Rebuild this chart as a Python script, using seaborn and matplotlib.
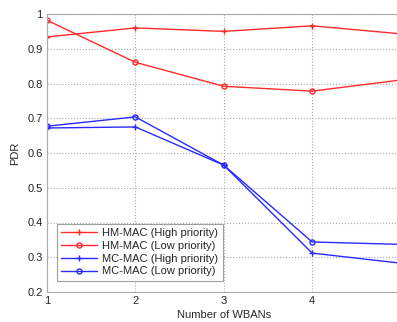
import matplotlib
matplotlib.use("Agg")
import matplotlib.pyplot as plt
import seaborn as sns
import pandas as pd

wbans = [1, 2, 3, 4, 5]
hm_high = [0.934, 0.960, 0.950, 0.966, 0.943]
hm_low = [0.982, 0.861, 0.792, 0.778, 0.810]
mc_high = [0.672, 0.675, 0.565, 0.312, 0.283]
mc_low = [0.677, 0.704, 0.565, 0.344, 0.337]
labels = ["HM-MAC (High priority)", "HM-MAC (Low priority)",
          "MC-MAC (High priority)", "MC-MAC (Low priority)"]
series = [hm_high, hm_low, mc_high, mc_low]
colors = ["#ff2a2a", "#ff2a2a", "#2a2aff", "#2a2aff"]
markers = ["+", "o", "+", "o"]
xtick_labels = ["1", "2", "3", "4"]

sns.set_style("white")
plt.rcParams["font.family"] = ["Liberation Sans", "DejaVu Sans"]

fig = plt.figure(figsize=(3.97, 3.22), dpi=100)
ax = fig.add_axes([47 / 397, 30 / 322, (400.5 - 47) / 397, (292 - 14) / 322])

for lab, vals, c, m in zip(labels, series, colors, markers):
    df = pd.DataFrame({"x": wbans, "y": vals})
    sns.lineplot(data=df, x="x", y="y", ax=ax, color=c, marker=m, label=lab,
                 linewidth=1.0, markersize=4.5 if m == "+" else 3.6,
                 markerfacecolor="none", markeredgecolor=c, markeredgewidth=1.0)

ax.set_xlim(1, 5)
ax.set_ylim(0.2, 1.0)
ax.set_xticks([1, 2, 3, 4])
ax.set_xticklabels(xtick_labels)
ax.set_xticks([5], minor=True)
ax.set_yticks([0.2, 0.3, 0.4, 0.5, 0.6, 0.7, 0.8, 0.9, 1.0])
ax.set_yticklabels(["0.2", "0.3", "0.4", "0.5", "0.6", "0.7", "0.8", "0.9", "1"])
ax.tick_params(axis="both", labelsize=8, direction="in", length=3, color="#888888", pad=3)
ax.grid(True, which="both", linestyle=":", color="#aaaaaa", linewidth=0.8)
for s in ax.spines.values():
    s.set_color("#aaaaaa")
    s.set_linewidth(0.8)
ax.set_xlabel("Number of WBANs", fontsize=8, labelpad=3)
ax.set_ylabel("PDR", fontsize=8, labelpad=5)

leg = ax.legend(loc="lower left", bbox_to_anchor=(0.012, 0.02), fontsize=8,
                frameon=True, fancybox=False, edgecolor="#888888",
                handlelength=3.2, borderpad=0.4, labelspacing=0.25, handletextpad=0.5)
leg.get_frame().set_linewidth(0.8)

fig.savefig("out.png", dpi=100)
